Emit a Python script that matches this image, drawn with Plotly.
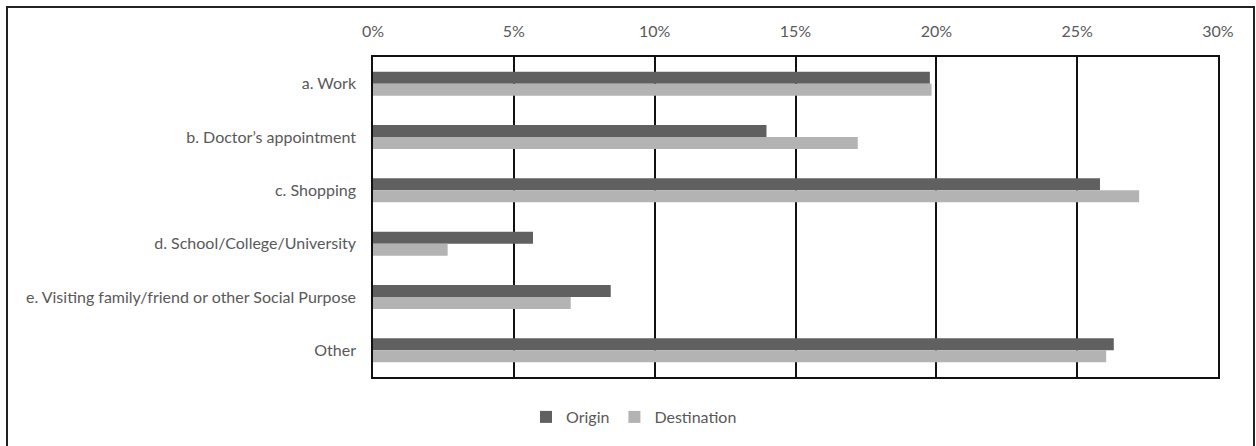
import plotly.graph_objects as go

# Trip purposes, top to bottom
categories = [
    "a. Work",
    "b. Doctor\u2019s appointment",
    "c. Shopping",
    "d. School/College/University",
    "e. Visiting family/friend or other Social Purpose",
    "Other",
]
# Share of trips (fraction) for each purpose
origin = [0.1977, 0.1397, 0.2581, 0.0568, 0.0844, 0.2630]
destination = [0.1983, 0.1721, 0.2720, 0.0265, 0.0702, 0.2603]

tick_vals = [0, 0.05, 0.10, 0.15, 0.20, 0.25, 0.30]
tick_text = ["0%", "5%", "10%", "15%", "20%", "25%", "30%"]

W, H = 1256, 446
L, R, T, B = 373, 38, 57, 69
pw, ph = W - L - R, H - T - B

def px_x(px):
    return (px - L) / pw

def px_y(py):
    return (H - B - py) / ph

text_color = "#595959"
font_family = "Lato, 'Open Sans', sans-serif"

fig = go.Figure()
fig.add_trace(go.Bar(
    name="Origin", y=categories, x=origin, orientation="h",
    marker=dict(color="#606060", line=dict(width=0)),
))
fig.add_trace(go.Bar(
    name="Destination", y=categories, x=destination, orientation="h",
    marker=dict(color="#b3b3b3", line=dict(width=0)),
))

fig.update_layout(
    width=W, height=H,
    margin=dict(l=L, r=R, t=T, b=B, autoexpand=False),
    paper_bgcolor="white", plot_bgcolor="white",
    barmode="group", bargap=0.55, bargroupgap=0,
    font=dict(family=font_family, size=16, color=text_color),
    legend=dict(
        orientation="h", x=px_x(634), xanchor="center",
        y=px_y(417), yanchor="middle",
        font=dict(size=16, color=text_color),
        traceorder="normal", itemwidth=30,
    ),
    xaxis=dict(
        side="top", range=[0, 0.30], tickvals=tick_vals, ticktext=tick_text,
        showgrid=True, gridcolor="#111111", gridwidth=1.5,
        showline=True, linecolor="#111111", linewidth=1.5, mirror=True,
        ticks="outside", ticklen=12, tickcolor="rgba(0,0,0,0)",
        zeroline=False, fixedrange=True,
    ),
    yaxis=dict(
        autorange="reversed",
        showline=True, linecolor="#111111", linewidth=1.5, mirror=True,
        ticks="outside", ticklen=12, tickcolor="rgba(0,0,0,0)",
        showgrid=False, fixedrange=True,
    ),
    shapes=[dict(
        type="rect", xref="paper", yref="paper",
        x0=px_x(7), x1=px_x(1254), y0=px_y(460), y1=px_y(7),
        line=dict(color="#222222", width=2), fillcolor="rgba(0,0,0,0)",
        layer="below",
    )],
)

fig.write_html("out.html")
